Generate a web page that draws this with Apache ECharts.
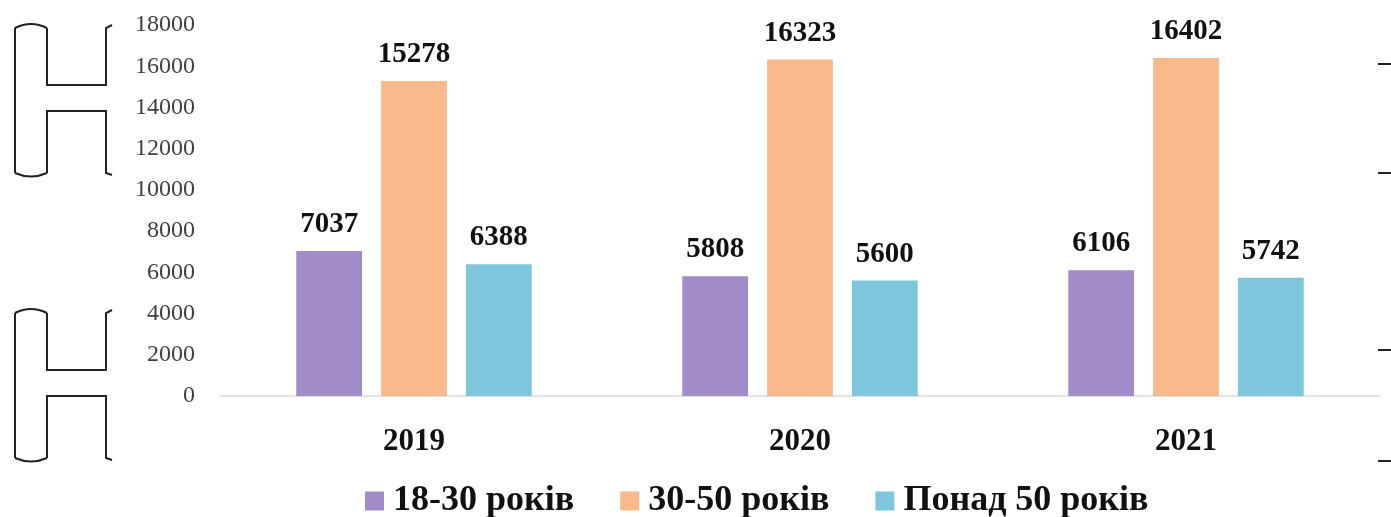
<!DOCTYPE html>
<html>
<head>
<meta charset="utf-8">
<script src="https://cdn.jsdelivr.net/npm/echarts@6/dist/echarts.min.js"></script>
<style>
  html, body { margin: 0; padding: 0; background: #fff; }
  #chart { width: 1391px; height: 517px; }
</style>
</head>
<body>
<div id="chart"></div>
<script>
var years = ['2019', '2020', '2021'];
var seriesNames = ['18-30 років', '30-50 років', 'Понад 50 років'];
var young = [7037, 5808, 6106];
var middle = [15278, 16323, 16402];
var older = [6388, 5600, 5742];
var colors = ['#a28bc9', '#f9b98a', '#7ec6dc'];

var serif = '"Liberation Serif", "DejaVu Serif", serif';

// scan artifacts at the page edges
var ink = { fill: null, stroke: '#222', lineWidth: 2 };
function bracket(dy) {
  function p(pts) {
    return { type: 'polyline', silent: true,
      shape: { points: pts.map(function(q) { return [q[0], q[1] + dy]; }) }, style: ink };
  }
  function arc(y, cy) {
    return { type: 'bezierCurve', silent: true,
      shape: { x1: 15, y1: y + dy, x2: 47, y2: y + dy, cpx1: 31, cpy1: cy + dy }, style: ink };
  }
  return [
    p([[15, 28], [15, 173]]),
    p([[47, 28], [47, 85], [106, 85], [106, 28], [112, 25]]),
    p([[47, 173], [47, 111], [106, 111], [106, 173], [112, 175]]),
    arc(28, 20),
    arc(173, 180)
  ];
}
var marks = bracket(0).concat(bracket(285));
[64, 173, 350, 461].forEach(function(y) {
  marks.push({ type: 'line', silent: true, shape: { x1: 1378, y1: y, x2: 1391, y2: y }, style: ink });
});

var chart = echarts.init(document.getElementById('chart'), null, { renderer: 'canvas' });
var data = [young, middle, older];
chart.setOption({
  animation: false,
  color: colors,
  grid: { left: 221, right: 12, top: 25, bottom: 121 },
  legend: {
    top: 478,
    left: 360,
    itemWidth: 19,
    itemHeight: 19,
    itemGap: 46,
    icon: 'rect',
    textStyle: { fontFamily: serif, fontWeight: 'bold', fontSize: 36, color: '#111', padding: [0, 0, 0, 4] },
    data: seriesNames
  },
  xAxis: {
    type: 'category',
    data: years,
    axisLine: { lineStyle: { color: '#d9d9d9', width: 1.5 } },
    axisTick: { show: false },
    axisLabel: { margin: 30, fontFamily: serif, fontWeight: 'bold', fontSize: 31, color: '#111' }
  },
  yAxis: {
    type: 'value',
    min: 0,
    max: 18000,
    interval: 2000,
    axisLine: { show: false },
    axisTick: { show: false },
    splitLine: { show: false },
    axisLabel: {
      margin: 26, fontFamily: serif, fontSize: 24, color: '#404040',
      formatter: function(v) { return String(v); }
    }
  },
  series: seriesNames.map(function(name, i) {
    return {
      name: name,
      type: 'bar',
      data: data[i],
      barGap: '29%',
      barCategoryGap: '39%',
      itemStyle: { color: colors[i] },
      label: {
        show: true,
        position: 'top',
        distance: 12,
        fontFamily: serif,
        fontWeight: 'bold',
        fontSize: 29,
        color: '#111'
      }
    };
  }),
  graphic: marks
});
</script>
</body>
</html>
